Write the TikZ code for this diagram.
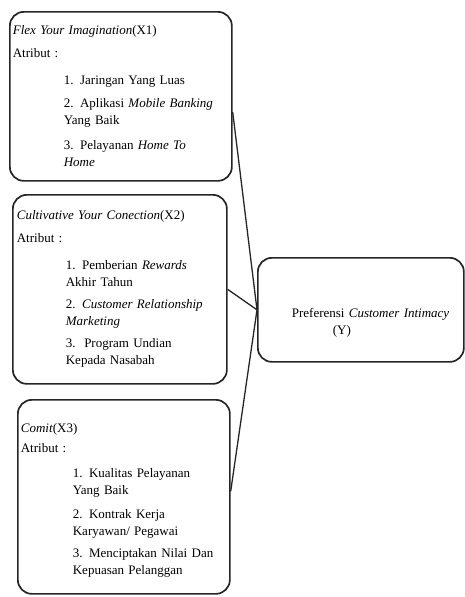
\documentclass[tikz,border=0pt]{standalone}
\usepackage{fontspec}
\setmainfont{Liberation Serif}
\usetikzlibrary{positioning}

\begin{document}
\begin{tikzpicture}[x=1pt, y=-1pt,
    varbox/.style={draw=black!85, rounded corners=14pt, line width=1.7pt, anchor=north west, align=left, inner xsep=3pt, inner ysep=0pt, font=\fontsize{13}{17}\selectfont},
    link/.style={draw=black!85, line width=1.3pt}
]
    \useasboundingbox (0,0) rectangle (464,597);
    % X1
    \node[varbox, minimum width=222pt, minimum height=169pt, text width=216pt] (x1) at (9,11) {
        \textit{Flex Your Imagination}(X1)\\[6pt]
        Atribut :\\[10pt]
        \hspace*{51pt}1. Jaringan Yang Luas\\[6pt]
        \hspace*{51pt}2. Aplikasi \textit{Mobile Banking}\\
        \hspace*{51pt}Yang Baik\\[8pt]
        \hspace*{51pt}3. Pelayanan \textit{Home To}\\
        \hspace*{51pt}\textit{Home}};
    % X2
    \node[varbox, minimum width=214pt, minimum height=189pt, text width=206pt, inner xsep=4pt] (x2) at (12,194) {
        \textit{Cultivative Your Conection}(X2)\\[6pt]
        Atribut :\\[10pt]
        \hspace*{49pt}1. Pemberian \textit{Rewards}\\
        \hspace*{49pt}Akhir Tahun\\[5pt]
        \hspace*{49pt}2. \textit{Customer Relationship}\\
        \hspace*{49pt}\textit{Marketing}\\[5pt]
        \hspace*{49pt}3.\ \ Program Undian\\
        \hspace*{49pt}Kepada Nasabah};
    % X3
    \node[varbox, minimum width=212pt, minimum height=194pt, text width=206pt] (x3) at (17,399) {
        \rule{0pt}{16pt}\textit{Comit}(X3)\\[3pt]
        Atribut :\\[8pt]
        \hspace*{52pt}1. Kualitas Pelayanan\\
        \hspace*{52pt}Yang Baik\\[7pt]
        \hspace*{52pt}2. Kontrak Kerja\\
        \hspace*{52pt}Karyawan/ Pegawai\\[5pt]
        \hspace*{52pt}3. Menciptakan Nilai Dan\\
        \hspace*{52pt}Kepuasan Pelanggan};
    % Y
    \node[varbox, minimum width=206pt, minimum height=104pt, text width=200pt] (y) at (257,257) {
        \rule{0pt}{36pt}\hspace*{31pt}Preferensi \textit{Customer Intimacy}\\
        \hspace*{72pt}(Y)};

    \draw[link] (x1.-8) -- (y.west);
    \draw[link] (x2.east) -- (y.west);
    \draw[link] (x3.3) -- (y.west);
\end{tikzpicture}
\end{document}
